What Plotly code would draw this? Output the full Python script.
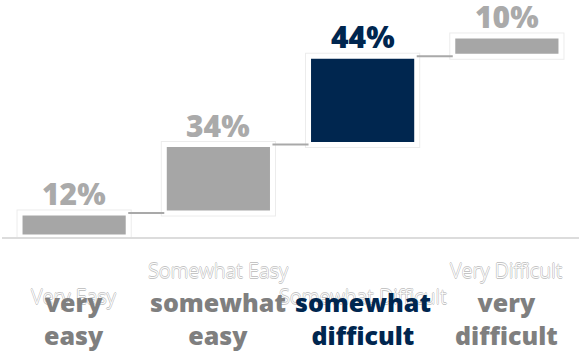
import plotly.graph_objects as go

categories = ["Very Easy", "Somewhat Easy", "Somewhat Difficult", "Very Difficult"]
bold_labels = ["very<br>easy", "somewhat<br>easy", "somewhat<br>difficult", "very<br>difficult"]
values = [12, 34, 44, 10]
highlight = [False, False, True, False]

GRAY = "#a6a6a6"
NAVY = "#00264f"
LABEL_GRAY = "#7f7f7f"
BAR_W = 0.75

xs = list(range(len(values)))
bases = []
cum = 0
for v in values:
    bases.append(cum)
    cum += v
tops = [b + v for b, v in zip(bases, values)]
colors = [NAVY if h else GRAY for h in highlight]

fig = go.Figure()

# connectors
cx, cy = [], []
for i in range(len(values) - 1):
    cx += [xs[i] + BAR_W / 2, xs[i + 1] - BAR_W / 2, None]
    cy += [tops[i], tops[i], None]
fig.add_trace(go.Scatter(x=cx, y=cy, mode="lines", line=dict(color="#a9a9a9", width=2),
                         hoverinfo="skip", showlegend=False, cliponaxis=False))

# faint shadow ring
fig.add_trace(go.Bar(x=xs, y=values, base=bases, width=BAR_W,
                     marker=dict(color="#ececec", line=dict(color="#ececec", width=7)),
                     showlegend=False, hoverinfo="skip", cliponaxis=False))
# main bars
fig.add_trace(go.Bar(x=xs, y=values, base=bases, width=BAR_W,
                     marker=dict(color=colors, line=dict(color="white", width=5)),
                     showlegend=False, cliponaxis=False))

annotations = []
for i, (t, v) in enumerate(zip(tops, values)):
    annotations.append(dict(x=xs[i], y=t, xref="x", yref="y", text=f"{v}%",
                            showarrow=False, yanchor="bottom", yshift=-3,
                            font=dict(family="Open Sans", size=30, weight=800,
                                      color=NAVY if highlight[i] else "#aaaaaa")))
# faint category names (staggered)
outline = ("-0.6px 0px 0px #c4c4c4, 0.6px 0px 0px #c4c4c4, "
           "0px -0.6px 0px #c4c4c4, 0px 0.6px 0px #c4c4c4")
for i, c in enumerate(categories):
    annotations.append(dict(x=xs[i], y=0, xref="x", yref="paper", text=c,
                            showarrow=False, yanchor="middle",
                            yshift=-59 if i % 2 == 0 else -33,
                            font=dict(family="Open Sans", size=20, weight=300, color="white",
                                      shadow=outline)))
# bold labels
for i, lab in enumerate(bold_labels):
    annotations.append(dict(x=xs[i], y=0, xref="x", yref="paper", text=lab,
                            showarrow=False, yanchor="top", yshift=-46,
                            font=dict(family="Open Sans", size=25, weight=800,
                                      color=NAVY if highlight[i] else LABEL_GRAY)))

fig.update_layout(
    width=579, height=353,
    margin=dict(l=2, r=0, t=26, b=116),
    paper_bgcolor="white", plot_bgcolor="white",
    barmode="overlay",
    xaxis=dict(range=[-0.5, 3.5], showticklabels=False, showgrid=False, zeroline=False,
               showline=True, linecolor="#dcdcdc", linewidth=2, fixedrange=True),
    yaxis=dict(range=[0, 105], visible=False, fixedrange=True),
    annotations=annotations,
    showlegend=False,
)

fig.write_html("out.html", config={"displayModeBar": False},
               post_script="document.body.style.margin='0';")
